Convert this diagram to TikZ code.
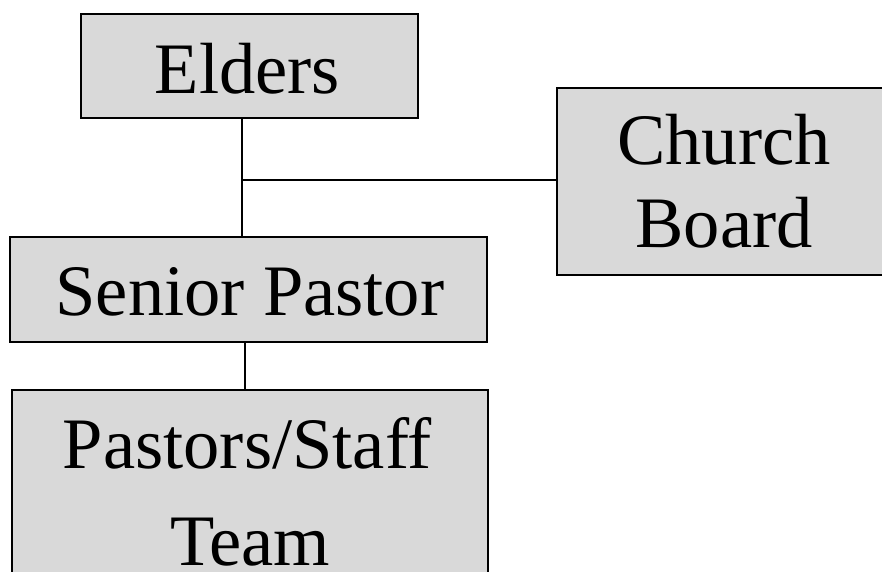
\documentclass[tikz,border=0pt]{standalone}
\usepackage{fontspec}
\setmainfont{Liberation Serif}
\definecolor{boxgray}{HTML}{D9D9D9}
\begin{document}
\begin{tikzpicture}[x=1pt,y=-1pt,
  box/.style={draw=black,fill=boxgray,line width=1.6pt,inner sep=0pt,outer sep=0pt},
  lbl/.style={anchor=base,inner sep=0pt,font=\fontsize{72.5}{80}\selectfont},
  conn/.style={draw=black,line width=1.3pt}]
\clip (0,0) rectangle (882,571);
\fill[white] (0,0) rectangle (882,571);
% boxes
\node[box,minimum width=337pt,minimum height=104pt] (elders) at (249.5,66) {};
\node[box,minimum width=334pt,minimum height=187pt] (board) at (724,181.5) {};
\node[box,minimum width=477pt,minimum height=105pt] (senior) at (248.5,289.5) {};
\node[box,minimum width=476pt,minimum height=230pt] (team) at (250,505) {};
% labels
\node[lbl] (elders-t) at (247.5,93) {Elders};
\node[lbl] (board-t1) at (724,164) {Church};
\node[lbl] (board-t2) at (724,247) {Board};
\node[lbl] (senior-t) at (250,315) {Senior Pastor};
\node[lbl] (team-t1) at (247.5,468) {Pastors/Staff};
\node[lbl] (team-t2) at (250,565) {Team};
% connectors
\coordinate (j) at (242,180);
\coordinate (k) at (245,366);
\draw[conn] (j |- elders.south) -- (j |- senior.north);
\draw[conn] (j) -- (j -| board.west);
\draw[conn] (k |- senior.south) -- (k |- team.north);
\end{tikzpicture}
\end{document}
